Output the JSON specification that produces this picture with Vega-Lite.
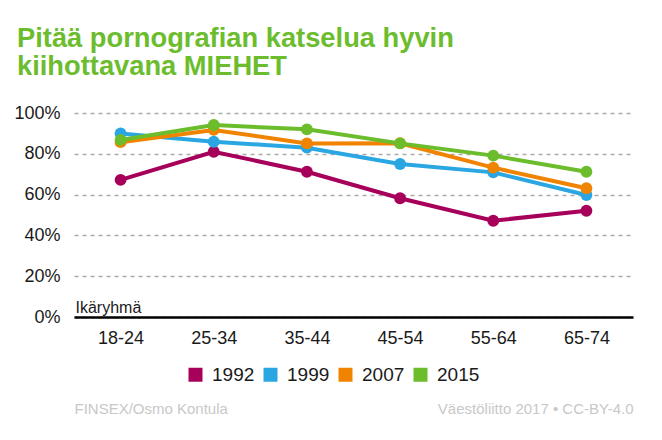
{
  "$schema": "https://vega.github.io/schema/vega-lite/v6.json",
  "width": 559,
  "height": 204,
  "autosize": {"type": "none"},
  "padding": {"left": 74, "top": 113, "right": 29, "bottom": 123},
  "background": "white",
  "config": {
    "font": "Liberation Sans",
    "view": {"stroke": null}
  },
  "title": {
    "text": ["Pitää pornografian katselua hyvin", "kiihottavana MIEHET"],
    "anchor": "start",
    "frame": "group",
    "dx": -57,
    "offset": 2,
    "fontSize": 27.3,
    "fontWeight": "bold",
    "color": "#6CBD2E",
    "lineHeight": 28,
    "baseline": "alphabetic"
  },
  "data": {
    "values": [
      {"ika": "18-24", "vuosi": "1992", "osuus": 0.672},
      {"ika": "25-34", "vuosi": "1992", "osuus": 0.81},
      {"ika": "35-44", "vuosi": "1992", "osuus": 0.712},
      {"ika": "45-54", "vuosi": "1992", "osuus": 0.582},
      {"ika": "55-64", "vuosi": "1992", "osuus": 0.472},
      {"ika": "65-74", "vuosi": "1992", "osuus": 0.521},
      {"ika": "18-24", "vuosi": "1999", "osuus": 0.90},
      {"ika": "25-34", "vuosi": "1999", "osuus": 0.859},
      {"ika": "35-44", "vuosi": "1999", "osuus": 0.83},
      {"ika": "45-54", "vuosi": "1999", "osuus": 0.75},
      {"ika": "55-64", "vuosi": "1999", "osuus": 0.709},
      {"ika": "65-74", "vuosi": "1999", "osuus": 0.598},
      {"ika": "18-24", "vuosi": "2007", "osuus": 0.857},
      {"ika": "25-34", "vuosi": "2007", "osuus": 0.917},
      {"ika": "35-44", "vuosi": "2007", "osuus": 0.851},
      {"ika": "45-54", "vuosi": "2007", "osuus": 0.852},
      {"ika": "55-64", "vuosi": "2007", "osuus": 0.732},
      {"ika": "65-74", "vuosi": "2007", "osuus": 0.631},
      {"ika": "18-24", "vuosi": "2015", "osuus": 0.868},
      {"ika": "25-34", "vuosi": "2015", "osuus": 0.941},
      {"ika": "35-44", "vuosi": "2015", "osuus": 0.92},
      {"ika": "45-54", "vuosi": "2015", "osuus": 0.851},
      {"ika": "55-64", "vuosi": "2015", "osuus": 0.791},
      {"ika": "65-74", "vuosi": "2015", "osuus": 0.712}
    ]
  },
  "encoding": {
    "x": {
      "field": "ika",
      "type": "ordinal",
      "scale": {"type": "point", "padding": 0.5},
      "axis": {
        "title": "FINSEX/Osmo Kontula",
        "titleX": 0,
        "titleY": 96,
        "titleAlign": "left",
        "titleBaseline": "alphabetic",
        "titleFontSize": 15,
        "titleFontWeight": "normal",
        "titleColor": "#C8C8C8",
        "labelAngle": 0,
        "labelFontSize": 18,
        "labelColor": "#1a1a1a",
        "labelPadding": 12,
        "ticks": false,
        "domainColor": "#000000",
        "domainWidth": 2.5,
        "grid": false
      }
    },
    "color": {
      "field": "vuosi",
      "type": "nominal",
      "scale": {
        "domain": ["1992", "1999", "2007", "2015"],
        "range": ["#A6005B", "#2AA7E2", "#F08400", "#6BBD2B"]
      },
      "legend": {
        "title": null,
        "orient": "none",
        "direction": "horizontal",
        "legendX": 112,
        "legendY": 252,
        "symbolType": "square",
        "symbolSize": 196,
        "symbolStrokeWidth": 0,
        "symbolOpacity": 1,
        "labelFontSize": 19,
        "labelColor": "#1a1a1a",
        "labelOffset": 7,
        "columnPadding": 6
      }
    }
  },
  "layer": [
    {
      "mark": {"type": "line", "strokeWidth": 4},
      "encoding": {
        "y": {
          "field": "osuus",
          "type": "quantitative",
          "scale": {"domain": [0, 1]},
          "axis": {
            "title": "Ikäryhmä",
            "titleAngle": 0,
            "titleX": 1,
            "titleY": 199,
            "titleAlign": "left",
            "titleBaseline": "alphabetic",
            "titleFontSize": 16,
            "titleFontWeight": "normal",
            "titleColor": "#1a1a1a",
            "values": [0, 0.2, 0.4, 0.6, 0.8, 1],
            "format": "~%",
            "labelFontSize": 18,
            "labelColor": "#1a1a1a",
            "labelPadding": 14,
            "ticks": false,
            "domain": false,
            "grid": true,
            "gridColor": "#AAAAAA",
            "gridWidth": 1.5,
            "gridDash": [4, 4]
          }
        }
      }
    },
    {
      "mark": {"type": "point", "filled": true, "opacity": 1, "size": 140},
      "encoding": {
        "y": {
          "field": "osuus",
          "type": "quantitative",
          "scale": {"domain": [0, 1]},
          "axis": {
            "orient": "right",
            "title": "Väestöliitto 2017 • CC-BY-4.0",
            "titleAngle": 0,
            "titleX": 0,
            "titleY": 300,
            "titleAlign": "right",
            "titleBaseline": "alphabetic",
            "titleFontSize": 15,
            "titleFontWeight": "normal",
            "titleColor": "#C8C8C8",
            "labels": false,
            "ticks": false,
            "domain": false,
            "grid": false
          }
        }
      }
    }
  ],
  "resolve": {"axis": {"y": "independent"}}
}
